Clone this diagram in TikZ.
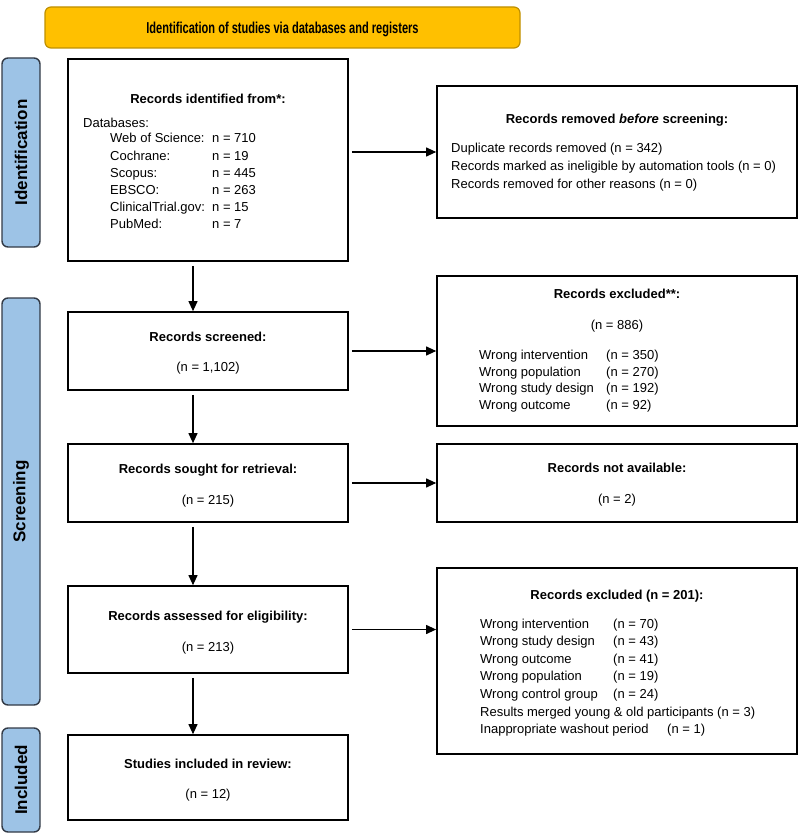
\documentclass[tikz,border=0pt]{standalone}
\usepackage{fontspec}
\setmainfont{Liberation Sans}
\usetikzlibrary{arrows.meta,calc,fit}
\definecolor{bannerfill}{HTML}{FFC000}
\definecolor{bannerdraw}{HTML}{BF9000}
\definecolor{sidefill}{HTML}{9DC3E6}
\definecolor{sidedraw}{HTML}{323A46}
\begin{document}
\begin{tikzpicture}[x=1pt,y=-1pt,
  box/.style={draw=black, line width=1.7pt, inner sep=0pt, fill=white},
  sidebox/.style={draw=sidedraw, fill=sidefill, line width=1.4pt, rounded corners=6pt, inner sep=0pt},
  bannerbox/.style={draw=bannerdraw, fill=bannerfill, line width=1.2pt, rounded corners=6pt, inner sep=0pt},
  txt/.style={font=\fontsize{13}{15}\selectfont, inner sep=0pt, anchor=base west},
  ttl/.style={font=\fontsize{13}{15}\selectfont\bfseries, inner sep=0pt, anchor=base},
  ctr/.style={font=\fontsize{13}{15}\selectfont, inner sep=0pt, anchor=base},
  sidetxt/.style={font=\fontsize{17}{20}\selectfont\bfseries, rotate=90, inner sep=0pt},
  arr/.style={line width=1.1pt, -{Triangle[length=10pt,width=9pt]}}
]
\useasboundingbox (0,0) rectangle (800,834);

% banner
\node[bannerbox, fit={(45,7) (520,48)}] (banner) {};
\node[inner sep=0pt, anchor=base] (bannert) at (282.5,33.5) {\scalebox{0.7}[1]{\fontsize{15.8}{18}\selectfont\bfseries Identification of studies via databases and registers}};

% side labels
\node[sidebox, fit={(2,58) (40,247)}] (side1) {};
\node[sidetxt] (side1t) at (side1.center) {Identification};
\node[sidebox, fit={(2,298) (40,705)}] (side2) {};
\node[sidetxt] (side2t) at (side2.center) {Screening};
\node[sidebox, fit={(2,728) (40,832)}] (side3) {};
\node[sidetxt] (side3t) at (side3.center) {Included};

% boxes
\node[box, fit={(68,59) (348,261)}] (ident) {};
\node[box, fit={(437,86) (797,218)}] (removed) {};
\node[box, fit={(68,312) (348,390)}] (screened) {};
\node[box, fit={(437,276) (797,426)}] (excla) {};
\node[box, fit={(68,444) (348,522)}] (sought) {};
\node[box, fit={(437,444) (797,522)}] (notav) {};
\node[box, fit={(68,586) (348,673)}] (assessed) {};
\node[box, fit={(437,568) (797,754)}] (exclb) {};
\node[box, fit={(68,735) (348,820)}] (incl) {};

% identification box text
\node[ttl] (identt) at (208,104) {Records identified from*:};
\node[txt] (db0) at (83,128) {Databases:};
\node[txt] (db1) at (110,143) {Web of Science:};
\node[txt] (db1n) at (212,143) {n = 710};
\node[txt] (db2) at (110,160.2) {Cochrane:};
\node[txt] (db2n) at (212,160.2) {n = 19};
\node[txt] (db3) at (110,177.4) {Scopus:};
\node[txt] (db3n) at (212,177.4) {n = 445};
\node[txt] (db4) at (110,194.6) {EBSCO:};
\node[txt] (db4n) at (212,194.6) {n = 263};
\node[txt] (db5) at (110,211.8) {ClinicalTrial.gov:};
\node[txt] (db5n) at (212,211.8) {n = 15};
\node[txt] (db6) at (110,229) {PubMed:};
\node[txt] (db6n) at (212,229) {n = 7};

% removed box text
\node[ttl] (removedt) at (617,124) {Records removed \textit{before} screening:};
\node[txt] (rm1) at (451,153) {Duplicate records removed (n = 342)};
\node[txt] (rm2) at (451,171) {Records marked as ineligible by automation tools (n = 0)};
\node[txt] (rm3) at (451,189) {Records removed for other reasons (n = 0)};

% screened
\node[ttl] (screenedt) at (208,341) {Records screened:};
\node[ctr] (screenedn) at (208,371) {(n = 1,102)};

% excluded a
\node[ttl] (exclat) at (617,298) {Records excluded**:};
\node[ctr] (exclan) at (617,329) {(n = 886)};
\node[txt] (ea1) at (479,359.5) {Wrong intervention};
\node[txt] (ea1n) at (606,359.5) {(n = 350)};
\node[txt] (ea2) at (479,376) {Wrong population};
\node[txt] (ea2n) at (606,376) {(n = 270)};
\node[txt] (ea3) at (479,392.5) {Wrong study design};
\node[txt] (ea3n) at (606,392.5) {(n = 192)};
\node[txt] (ea4) at (479,409) {Wrong outcome};
\node[txt] (ea4n) at (606,409) {(n = 92)};

% sought
\node[ttl] (soughtt) at (208,473) {Records sought for retrieval:};
\node[ctr] (soughtn) at (208,504) {(n = 215)};

% not available
\node[ttl] (notavt) at (617,472) {Records not available:};
\node[ctr] (notavn) at (617,503) {(n = 2)};

% assessed
\node[ttl] (assessedt) at (208,620) {Records assessed for eligibility:};
\node[ctr] (assessedn) at (208,651) {(n = 213)};

% excluded b
\node[ttl] (exclbt) at (617,599) {Records excluded (n = 201):};
\node[txt] (eb1) at (480,628) {Wrong intervention};
\node[txt] (eb1n) at (613,628) {(n = 70)};
\node[txt] (eb2) at (480,645.6) {Wrong study design};
\node[txt] (eb2n) at (613,645.6) {(n = 43)};
\node[txt] (eb3) at (480,663.2) {Wrong outcome};
\node[txt] (eb3n) at (613,663.2) {(n = 41)};
\node[txt] (eb4) at (480,680.8) {Wrong population};
\node[txt] (eb4n) at (613,680.8) {(n = 19)};
\node[txt] (eb5) at (480,698.4) {Wrong control group};
\node[txt] (eb5n) at (613,698.4) {(n = 24)};
\node[txt] (eb6) at (480,716) {Results merged young \& old participants (n = 3)};
\node[txt] (eb7) at (480,733.6) {Inappropriate washout period};
\node[txt] (eb7n) at (667,733.6) {(n = 1)};

% included
\node[ttl] (inclt) at (208,768) {Studies included in review:};
\node[ctr] (incln) at (208,798) {(n = 12)};

% vertical arrows
\draw[arr] ($(ident.south)+(-15,4)$) -- ($(screened.north)+(-15,0)$);
\draw[arr] ($(screened.south)+(-15,4)$) -- ($(sought.north)+(-15,0)$);
\draw[arr] ($(sought.south)+(-15,4)$) -- ($(assessed.north)+(-15,0)$);
\draw[arr] ($(assessed.south)+(-15,4)$) -- ($(incl.north)+(-15,0)$);

% horizontal arrows
\draw[arr] ($(ident.east |- removed.west)+(3,0)$) -- (removed.west);
\draw[arr] ($(screened.east)+(3,0)$) -- (screened.east -| excla.west);
\draw[arr] ($(sought.east)+(3,0)$) -- (sought.east -| notav.west);
\draw[arr] ($(assessed.east)+(3,0)$) -- (assessed.east -| exclb.west);
\end{tikzpicture}
\end{document}
